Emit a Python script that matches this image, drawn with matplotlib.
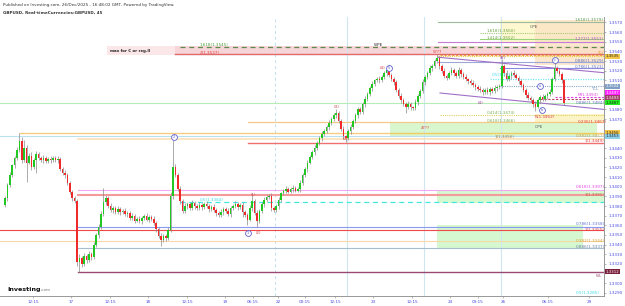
import matplotlib
matplotlib.use("Agg")
import matplotlib.pyplot as plt
from matplotlib.patches import Rectangle

# GBPUSD 45 min candles, closes
first_open = 1.3381
closes = [
    1.3388, 1.3402, 1.3412, 1.3422, 1.3430, 1.3438, 1.3447, 1.3428, 1.3440, 1.3425,
    1.3432, 1.3420, 1.3428, 1.3434, 1.3430, 1.3428, 1.3430, 1.3427, 1.3429, 1.3428,
    1.3430, 1.3428, 1.3429, 1.3418, 1.3414, 1.3412, 1.3404, 1.3394, 1.3388, 1.3385,
    1.3322, 1.3326, 1.3320, 1.3328, 1.3324, 1.3330, 1.3327, 1.3340, 1.3350, 1.3358,
    1.3372, 1.3384, 1.3388, 1.3380, 1.3376, 1.3378, 1.3374, 1.3377, 1.3374, 1.3375,
    1.3372, 1.3373, 1.3368, 1.3370, 1.3365, 1.3367, 1.3364, 1.3368, 1.3370, 1.3366,
    1.3369, 1.3367, 1.3362, 1.3356, 1.3349, 1.3345, 1.3349, 1.3347, 1.3355, 1.3390,
    1.3420, 1.3412, 1.3398, 1.3385, 1.3375, 1.3380, 1.3382, 1.3378, 1.3383, 1.3380,
    1.3378, 1.3381, 1.3379, 1.3382, 1.3380, 1.3377, 1.3379, 1.3376, 1.3373, 1.3371,
    1.3374, 1.3377, 1.3375, 1.3372, 1.3378, 1.3380, 1.3382, 1.3379, 1.3381, 1.3374,
    1.3371, 1.3366, 1.3378, 1.3385, 1.3373, 1.3364, 1.3375, 1.3382, 1.3386, 1.3389,
    1.3390, 1.3378, 1.3376, 1.3380, 1.3386, 1.3393, 1.3396, 1.3398, 1.3395, 1.3398,
    1.3399, 1.3396, 1.3398, 1.3404, 1.3412, 1.3418, 1.3425, 1.3431, 1.3436, 1.3440,
    1.3445, 1.3450, 1.3455, 1.3458, 1.3462, 1.3466, 1.3470, 1.3474, 1.3476, 1.3468,
    1.3460, 1.3452, 1.3450, 1.3458, 1.3462, 1.3468, 1.3474, 1.3480, 1.3477, 1.3486,
    1.3491, 1.3496, 1.3502, 1.3506, 1.3510, 1.3512, 1.3510, 1.3514, 1.3518, 1.3521,
    1.3516, 1.3511, 1.3508, 1.3500, 1.3494, 1.3490, 1.3486, 1.3482, 1.3486, 1.3482,
    1.3481, 1.3488, 1.3494, 1.3499, 1.3508, 1.3514, 1.3518, 1.3523, 1.3525, 1.3530,
    1.3533, 1.3525, 1.3520, 1.3515, 1.3513, 1.3518, 1.3521, 1.3518, 1.3515, 1.3521,
    1.3517, 1.3514, 1.3511, 1.3509, 1.3507, 1.3505, 1.3503, 1.3501, 1.3500, 1.3498,
    1.3500, 1.3498, 1.3501, 1.3499, 1.3502, 1.3503, 1.3504, 1.3525, 1.3518, 1.3511,
    1.3515, 1.3518, 1.3516, 1.3513, 1.3509, 1.3505, 1.3500, 1.3495, 1.3492, 1.3490,
    1.3486, 1.3483, 1.3490, 1.3493, 1.3491, 1.3494, 1.3496, 1.3498, 1.3512, 1.3523,
    1.3520, 1.3517, 1.3510, 1.3487,
]
# wick lengths beyond the body, in pips
up_wick = [
    2, 2, 3, 2, 2, 3, 9, 4, 8, 3, 3, 4, 2, 3, 2, 2, 3, 2, 2, 3,
    2, 2, 3, 2, 2, 3, 2, 2, 3, 2, 2, 4, 2, 3, 2, 3, 2, 3, 2, 3,
    3, 15, 3, 2, 3, 2, 2, 3, 2, 2, 3, 2, 2, 3, 2, 2, 3, 2, 2, 3,
    2, 2, 3, 2, 2, 3, 2, 2, 3, 4, 28, 3, 2, 3, 2, 3, 2, 2, 3, 2,
    2, 3, 2, 2, 3, 2, 2, 3, 2, 2, 3, 2, 2, 3, 2, 2, 3, 2, 2, 3,
    2, 2, 3, 7, 2, 3, 2, 2, 3, 2, 2, 3, 2, 2, 3, 2, 2, 3, 2, 2,
    3, 2, 2, 3, 2, 2, 3, 2, 2, 3, 2, 2, 3, 2, 2, 3, 2, 2, 4, 2,
    2, 3, 2, 2, 3, 2, 2, 3, 2, 2, 3, 2, 2, 3, 2, 2, 3, 2, 2, 4,
    2, 2, 3, 2, 2, 3, 2, 2, 3, 2, 2, 3, 2, 2, 3, 2, 2, 3, 2, 2,
    4, 2, 2, 3, 2, 2, 3, 2, 2, 3, 2, 2, 3, 2, 2, 3, 2, 2, 3, 2,
    2, 3, 2, 2, 3, 2, 2, 7, 2, 3, 2, 2, 3, 2, 2, 3, 2, 2, 3, 2,
    2, 3, 2, 2, 3, 2, 2, 3, 2, 5, 2, 3, 2, 2,
]
down_wick = [
    2, 3, 2, 2, 3, 2, 2, 3, 2, 20, 2, 3, 2, 14, 2, 2, 3, 2, 2, 3,
    2, 2, 3, 2, 2, 3, 2, 2, 3, 2, 4, 10, 3, 2, 3, 2, 3, 2, 2, 3,
    2, 2, 3, 2, 2, 3, 2, 2, 3, 2, 2, 3, 2, 2, 3, 2, 2, 3, 2, 2,
    3, 2, 2, 3, 2, 6, 2, 3, 2, 2, 3, 2, 2, 3, 2, 2, 3, 2, 2, 3,
    2, 2, 3, 2, 2, 3, 2, 2, 3, 2, 2, 3, 2, 2, 3, 2, 2, 3, 2, 5,
    2, 6, 2, 3, 2, 6, 2, 2, 3, 2, 2, 3, 2, 2, 3, 2, 2, 3, 2, 2,
    3, 2, 2, 3, 2, 2, 3, 2, 2, 3, 2, 2, 3, 2, 2, 3, 2, 2, 3, 2,
    2, 3, 4, 2, 3, 2, 2, 3, 2, 2, 3, 2, 2, 3, 2, 2, 3, 2, 2, 3,
    2, 2, 3, 2, 2, 3, 2, 6, 2, 3, 2, 2, 3, 2, 2, 3, 2, 2, 3, 2,
    2, 3, 2, 2, 3, 2, 2, 3, 2, 2, 3, 2, 2, 3, 2, 2, 3, 2, 2, 3,
    2, 2, 3, 2, 2, 3, 2, 2, 3, 2, 2, 3, 2, 2, 3, 2, 2, 3, 2, 2,
    3, 5, 2, 3, 2, 2, 3, 2, 2, 3, 2, 2, 3, 2,
]

# time axis labels and where they sit (chart pixels)
xtick_labels = ["12:15", "17", "12:15", "18", "12:15", "19", "06:15", "22", "03:15",
                "12:15", "23", "12:15", "24", "09:15", "26", "06:15", "29"]
xtick_px = [33, 71, 110, 148, 187, 225, 253, 278, 305, 335, 373, 412, 450, 478, 503, 548, 589]
yticks = [1.3290 + 0.001 * k for k in range(29)]

# price tags on the right scale
tag_prices = [1.3535, 1.3504, 1.3497, 1.3492, 1.3487, 1.3456, 1.3452, 1.3312]
tag_labels = ["1.3535", "1.3504", "1.3497", "1.3493", "1.3487", "1.3456", "1.3453", "1.3312"]
tag_colors = ["#f3c64a", "#7f9fc4", "#ff22ff", "#a0406a", "#22ee22", "#f3c64a", "#8fd0ea", "#7a1e3e"]
tag_text = ["#222222", "#ffffff", "#ffffff", "#ffffff", "#222222", "#222222", "#222222", "#ffffff"]


def bx(px):
    # chart pixel -> bar index
    return (px - 5) / 2.4


def py(y):
    # chart pixel -> price
    return 1.33 + (283.3 - y) / 9660


fig = plt.figure(figsize=(6.25, 3.06), dpi=100)
ax = fig.add_axes([0, 10 / 306, 604 / 625, 279 / 306])
ax.set_xlim(bx(0), bx(604))
ax.set_ylim(py(296), py(17))

# ---- zones (rectangles)
def zone(x0, x1, p0, p1, color, alpha=1.0, z=0):
    ax.add_patch(Rectangle((bx(x0), p0), bx(x1) - bx(x0), p1 - p0,
                           facecolor=color, edgecolor="none", alpha=alpha, zorder=z))

zone(107, 604, 1.3536, 1.3546, "#f6d4d8", z=0)
zone(107, 175, 1.3536, 1.3546, "#fbe6e8", z=0)
zone(500, 604, 1.3550, 1.3573, "#fdf8cf", z=0)
zone(535, 604, 1.3526, 1.3573, "#fbe3c4", alpha=0.8, z=0)
zone(390, 597, 1.3452, 1.3467, "#d9f7cf", z=0)
zone(535, 604, 1.3467, 1.3475, "#fbf4c6", z=0)
zone(437, 604, 1.3383, 1.3397, "#d6f8d0", z=0)
zone(437, 583, 1.3336, 1.3360, "#d6f8d0", z=0)

# ---- horizontal levels
def level(p, x0, color, lw=0.8, ls="-", x1=604):
    ax.plot([bx(x0), bx(x1)], [p, p], color=color, lw=lw, ls=ls, zorder=1)

level(1.3571, 438, "#9fb8a0")
level(1.3559, 480, "#a8c878", ls=(0, (1, 1)))
level(1.3553, 480, "#9bd27a")
level(1.3550, 438, "#c47ad6")
level(1.3545, 180, "#5e8a4e", lw=0.9, ls=(0, (4, 3)))
level(1.3537, 175, "#e06a6a", lw=1.0)
level(1.3536, 440, "#f0a040", ls=(0, (2, 1.5)))
level(1.3535, 438, "#e8d040", ls=(0, (1, 1)))
level(1.3529, 438, "#9ea6d8")
level(1.3523, 500, "#8a8ae0")
level(1.3511, 490, "#7ae8f0", lw=0.9, ls=(0, (1, 1)))
level(1.3504, 500, "#8aa8c8", ls=(0, (1, 1)))
level(1.3493, 555, "#e040e0", ls=(0, (2, 1.5)))
level(1.3491, 540, "#b04060", ls=(0, (2, 1.5)))
level(1.3487, 0, "#b6ecb6")
level(1.3474, 440, "#e0d060", ls=(0, (1, 1)))
level(1.3467, 248, "#f5c888", lw=0.9)
level(1.3456, 20, "#f5cc80", lw=1.0)
level(1.3456, 390, "#e8d040", ls=(0, (1, 1)))
level(1.3452, 0, "#b8e0ee")
level(1.3449, 78, "#fbe0b8", lw=1.2)
level(1.3445, 248, "#f07070", lw=1.0)
level(1.3397, 78, "#f0a8f0")
level(1.3391, 78, "#f59a9a", lw=1.5)
level(1.3384, 180, "#40e8e0", lw=0.9, ls=(0, (4, 3)))
level(1.3358, 78, "#8a9af0")
level(1.3355, 0, "#ee4848")
level(1.3344, 0, "#f9d8a8")
level(1.3337, 78, "#a8bcd0")
level(1.3312, 78, "#9a4a72", lw=1.0)

# vertical session lines
for vx in [347, 424, 501]:
    ax.axvline(bx(vx), color="#cfe6ee", lw=0.8, zorder=0.5)
ax.axvline(bx(275), color="#bfe0f0", lw=0.7, ls=(0, (3, 3)), zorder=0.5)

# channel
ax.plot([bx(438), bx(604)], [1.3534, 1.3518], color="#a070c8", lw=0.8, zorder=1)
ax.plot([bx(440), bx(604)], [1.3497, 1.3480], color="#a070c8", lw=0.8, zorder=1)

# ---- candles
opens = [first_open] + closes[:-1]
for i, c in enumerate(closes):
    o = opens[i]
    hi = max(o, c) + up_wick[i] * 0.0001
    lo = min(o, c) - down_wick[i] * 0.0001
    col = "#22c822" if c >= o else "#f02a2a"
    ax.vlines(i, lo, hi, color="#8a8a8a", lw=0.5, zorder=2)
    h = c - o if abs(c - o) > 0.00005 else 0.00005
    ax.bar(i, h, bottom=o, width=0.7, color=col, lw=0, zorder=3)

# ---- texts on chart
def label(px, y, s, color, size=3.0, ha="left", weight="normal"):
    ax.text(bx(px), py(y), s, color=color, fontsize=size, ha=ha, va="center",
            fontweight=weight, zorder=5)


def circ(px, y, s, color="#6060d0"):
    # circled wave letter
    ax.plot(bx(px), py(y), marker="o", ms=4.2, mfc="white", mec=color, mew=0.6, zorder=5)
    ax.text(bx(px), py(y), s, color=color, fontsize=2.6, ha="center", va="center", zorder=6)


label(110, 51, "max for C or reg.II", "#222222", weight="bold", size=2.8)
label(200, 45, "1.618(1.3545)", "#4d9a3a")
label(200, 53, "2(1.3537)", "#e04040")
label(378, 45, "WPE", "#222222", ha="center")
label(437, 52, "5???", "#e04040", ha="center")
label(575, 20, "1.618(1.3579)", "#5a9a5a")
label(487, 31, "1.618(1.3560)", "#6aa040")
label(487, 38, "1.414(1.3552)", "#6aa040")
label(575, 39, "1.272(1.3551)", "#b050c8")
label(530, 27, "OPE", "#555555")
label(598, 53, "(1)", "#e09a30")
label(575, 61, "0.886(1.3529)", "#6070b8")
label(575, 67, "0.786(1.3523)", "#6070b8")
label(492, 75, "0.5(1.3511)", "#40d8e8")
label(591, 89, "YCL", "#6a88b0")
label(578, 95, "M(1.3493)", "#e040e0")
label(576, 103, "0.886(1.3484)", "#6070b8")
label(487, 113, "0.414(1.3474)", "#7ab050")
label(487, 121, "0.618(1.3466)", "#7ab050")
label(535, 117, "N(1.3462)", "#e04060")
label(578, 122, "0.236(1.3467)", "#e04040")
label(535, 127, "OPE", "#555555")
label(425, 128, "4???", "#e04040", ha="center")
label(495, 137, "1(1.3456)", "#b08040")
label(576, 136, "0.382(1.3457)", "#d0a040")
label(585, 141, "1(1.3449)", "#e04040")
label(576, 187, "0.618(1.3397)", "#e040e0")
label(585, 195, "1(1.3391)", "#b06040")
label(200, 200, "0.5(1.3384)", "#40d8e8")
label(576, 224, "0.786(1.3358)", "#6070d0")
label(585, 230, "1(1.3355)", "#e04040")
label(576, 241, "0.382(1.3344)", "#d8a030")
label(576, 247, "0.886(1.3337)", "#6080a0")
label(596, 276, "WL", "#9a4a72")
label(576, 293, "0.5(1.3285)", "#40d8e8")

# wave counts
label(337, 107, "(3)", "#d04040", ha="center")
label(345, 139, "(4)", "#d04040", ha="center")
label(382, 68, "(4)", "#d04040", ha="center")
circ(389, 68, "5")
label(253, 195, "(1)", "#d04040", ha="center", size=2.8)
circ(248, 233, "1")
label(258, 233, "(2)", "#d04040", ha="center", size=2.8)
circ(174, 137, "2")
label(503, 58, "(B)", "#a040a0", ha="center")
label(480, 103, "(4)", "#a040a0", ha="center")
circ(555, 60, "c")
circ(540, 86, "a")
circ(542, 110, "b")

# ---- axes styling
for s in ["top", "left"]:
    ax.spines[s].set_visible(False)
ax.spines["right"].set_color("#888888")
ax.spines["right"].set_linewidth(0.6)
ax.spines["bottom"].set_color("#888888")
ax.spines["bottom"].set_linewidth(0.6)
ax.yaxis.tick_right()
shown = [t for t in yticks if min(abs(t - p) for p in tag_prices) > 0.00045]
ax.set_yticks(shown)
ax.set_yticklabels([f"{t:.4f}" for t in shown], fontsize=3.0)
ax.tick_params(axis="y", length=1.5, width=0.4, pad=1.5, colors="#888888", labelcolor="#4a4ae0")
ax.set_xticks([bx(p) for p in xtick_px])
ax.set_xticklabels(xtick_labels, fontsize=3.0)
ax.tick_params(axis="x", length=1.5, width=0.4, pad=1.5, colors="#888888", labelcolor="#4a4ae0")

# price tags
for p, s, bg, tc in zip(tag_prices, tag_labels, tag_colors, tag_text):
    ax.text(bx(606), p, s, fontsize=2.8, color=tc, va="center", ha="left",
            bbox=dict(boxstyle="square,pad=0.15", fc=bg, ec="none"), zorder=6, clip_on=False)

# header and logo
fig.text(3 / 625, 1 - 5 / 306, "Published on Investing.com, 26/Dec/2025 - 16:48:02 GMT, Powered by TradingView.",
         fontsize=3.0, color="#333333", va="center")
fig.text(3 / 625, 1 - 13 / 306, "GBPUSD, Real-timeCurrencies:GBPUSD, 45",
         fontsize=3.0, color="#333333", va="center", fontweight="bold")
fig.text(7 / 625, 1 - 289 / 306, "Investing", fontsize=4.6, color="#111111", va="center", fontweight="bold")
fig.text(41 / 625, 1 - 290 / 306, ".com", fontsize=3.0, color="#777777", va="center")

fig.savefig("out.png", dpi=100)
